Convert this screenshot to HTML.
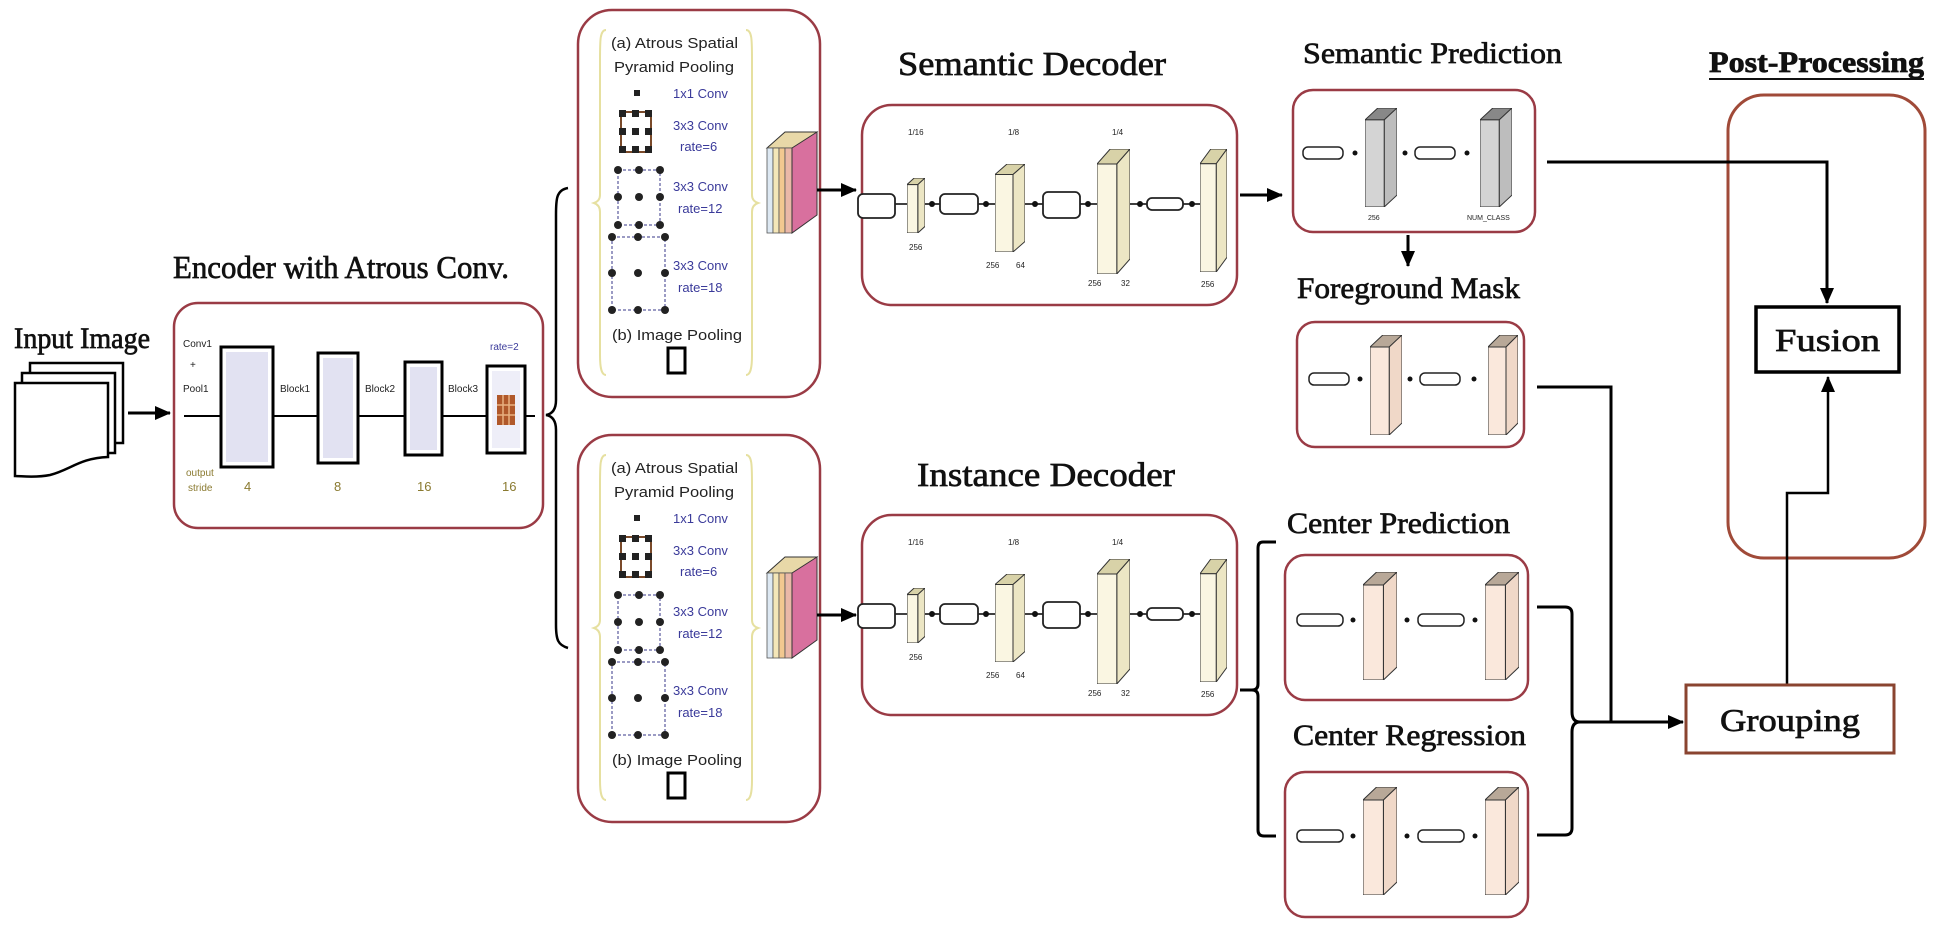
<!DOCTYPE html>
<html><head><meta charset="utf-8"><style>
html,body{margin:0;padding:0;background:#fff;}
svg{display:block;}
.t{font-family:"Liberation Serif",serif;fill:#111;stroke:#111;stroke-width:0.7;}
.s{font-family:"Liberation Sans",sans-serif;}
</style></head><body>
<svg width="1940" height="932" viewBox="0 0 1940 932" xmlns="http://www.w3.org/2000/svg">
<defs>
<marker id="ahb" markerWidth="16" markerHeight="14" refX="15" refY="7" orient="auto" markerUnits="userSpaceOnUse"><path d="M0,0 L16,7 L0,14 z" fill="#000"/></marker>
<symbol id="slabY" viewBox="0 0 30 100" preserveAspectRatio="none">
<polygon points="0,12 18,12 30,0 12,0" fill="#d8d2a8" stroke="#333" stroke-width="1" vector-effect="non-scaling-stroke"/>
<polygon points="18,12 30,0 30,88 18,100" fill="#ece6c4" stroke="#333" stroke-width="1" vector-effect="non-scaling-stroke"/>
<rect x="0" y="12" width="18" height="88" fill="#faf6e2" stroke="#333" stroke-width="1" vector-effect="non-scaling-stroke"/>
</symbol>
<symbol id="slabG" viewBox="0 0 30 100" preserveAspectRatio="none">
<polygon points="0,12 18,12 30,0 12,0" fill="#888" stroke="#333" stroke-width="1" vector-effect="non-scaling-stroke"/>
<polygon points="18,12 30,0 30,88 18,100" fill="#bdbdbd" stroke="#333" stroke-width="1" vector-effect="non-scaling-stroke"/>
<rect x="0" y="12" width="18" height="88" fill="#d4d4d4" stroke="#333" stroke-width="1" vector-effect="non-scaling-stroke"/>
</symbol>
<symbol id="slabP" viewBox="0 0 30 100" preserveAspectRatio="none">
<polygon points="0,12 18,12 30,0 12,0" fill="#b8a898" stroke="#333" stroke-width="1" vector-effect="non-scaling-stroke"/>
<polygon points="18,12 30,0 30,88 18,100" fill="#f0d8c8" stroke="#333" stroke-width="1" vector-effect="non-scaling-stroke"/>
<rect x="0" y="12" width="18" height="88" fill="#fae8dc" stroke="#333" stroke-width="1" vector-effect="non-scaling-stroke"/>
</symbol>
</defs>

<!-- Input image -->
<text class="t" x="14" y="348" font-size="30" textLength="136" lengthAdjust="spacingAndGlyphs">Input Image</text>
<g fill="#fff" stroke="#000" stroke-width="2.5">
<rect x="30" y="363" width="93" height="80"/>
<rect x="22" y="373" width="93" height="80"/>
<path d="M15,383 L108,383 L108,457 C80,458 70,470 50,475 C35,478 22,476 15,476 Z"/>
</g>
<line x1="128" y1="413" x2="170" y2="413" stroke="#000" stroke-width="3" marker-end="url(#ahb)"/>

<!-- Encoder -->
<text class="t" x="173" y="278" font-size="32" textLength="336" lengthAdjust="spacingAndGlyphs">Encoder with Atrous Conv.</text>
<rect x="174" y="303" width="369" height="225" rx="24" fill="#fff" stroke="#9a3b45" stroke-width="2.5"/>
<line x1="184" y1="416" x2="535" y2="416" stroke="#000" stroke-width="2"/>
<g stroke="#000" stroke-width="3">
<rect x="221" y="347" width="52" height="120" fill="#fff"/>
<rect x="318" y="353" width="40" height="110" fill="#fff"/>
<rect x="405" y="362" width="37" height="93" fill="#fff"/>
<rect x="487" y="366" width="38" height="87" fill="#fff"/>
</g>
<rect x="226" y="352" width="42" height="110" fill="#e2e2f2"/>
<rect x="323" y="358" width="30" height="100" fill="#e2e2f2"/>
<rect x="410" y="367" width="27" height="83" fill="#e2e2f2"/>
<rect x="492" y="371" width="28" height="77" fill="#eeeef8"/>
<rect x="497" y="395" width="18" height="30" fill="#b0582a"/>
<g stroke="#e8b080" stroke-width="1.5"><line x1="497" y1="405" x2="515" y2="405"/><line x1="497" y1="415" x2="515" y2="415"/><line x1="503" y1="395" x2="503" y2="425"/><line x1="509" y1="395" x2="509" y2="425"/></g>
<g class="s" font-size="10" fill="#222">
<text x="183" y="347">Conv1</text><text x="190" y="368">+</text><text x="183" y="392">Pool1</text>
<text x="280" y="392">Block1</text><text x="365" y="392">Block2</text><text x="448" y="392">Block3</text>
<text x="490" y="350" fill="#3a3a9a">rate=2</text>
<text x="186" y="476" fill="#8a7a30">output</text><text x="188" y="491" fill="#8a7a30">stride</text>
<text x="244" y="491" fill="#8a7a30" font-size="13">4</text><text x="334" y="491" fill="#8a7a30" font-size="13">8</text>
<text x="417" y="491" fill="#8a7a30" font-size="13">16</text><text x="502" y="491" fill="#8a7a30" font-size="13">16</text>
</g>

<!-- Big brace -->
<path d="M568,188 C556,190 556,200 556,215 L556,400 C556,410 552,414 546,415 C552,416 556,420 556,430 L556,625 C556,640 558,645 568,648" fill="none" stroke="#000" stroke-width="2.5"/>

<!-- ASPP boxes -->
<g id="aspp">
<rect x="578" y="10" width="242" height="387" rx="34" fill="#fff" stroke="#9a3b45" stroke-width="2.5"/>
<path d="M606,30 C600,30 600,40 600,60 L600,195 C600,200 597,202 594,203 C597,204 600,206 600,212 L600,355 C600,370 602,375 606,375" fill="none" stroke="#e6e0a0" stroke-width="2"/>
<path d="M746,30 C752,30 752,40 752,60 L752,195 C752,200 755,202 758,203 C755,204 752,206 752,212 L752,355 C752,370 750,375 746,375" fill="none" stroke="#e6e0a0" stroke-width="2"/>
<g class="s" font-size="15" fill="#222">
<text x="611" y="48" textLength="127" lengthAdjust="spacingAndGlyphs">(a) Atrous Spatial</text>
<text x="614" y="72" textLength="120" lengthAdjust="spacingAndGlyphs">Pyramid Pooling</text>
<text x="612" y="340" textLength="130" lengthAdjust="spacingAndGlyphs">(b) Image Pooling</text>
</g>
<g class="s" font-size="13" fill="#3a3a9a">
<text x="673" y="98">1x1 Conv</text>
<text x="673" y="130">3x3 Conv</text><text x="680" y="151">rate=6</text>
<text x="673" y="191">3x3 Conv</text><text x="678" y="213">rate=12</text>
<text x="673" y="270">3x3 Conv</text><text x="678" y="292">rate=18</text>
</g>
<rect x="634" y="90" width="6" height="6" fill="#222"/>
<rect x="621" y="112" width="30" height="40" fill="none" stroke="#7a4a2a" stroke-width="2"/>
<g fill="#222">
<rect x="619" y="110" width="7" height="7"/><rect x="632" y="110" width="7" height="7"/><rect x="645" y="110" width="7" height="7"/>
<rect x="619" y="128" width="7" height="7"/><rect x="632" y="128" width="7" height="7"/><rect x="645" y="128" width="7" height="7"/>
<rect x="619" y="146" width="7" height="7"/><rect x="632" y="146" width="7" height="7"/><rect x="645" y="146" width="7" height="7"/>
</g>
<rect x="618" y="170" width="42" height="55" fill="none" stroke="#7a7ab0" stroke-width="1.5" stroke-dasharray="3,2"/>
<g fill="#222">
<circle cx="618" cy="170" r="4"/><circle cx="639" cy="170" r="4"/><circle cx="660" cy="170" r="4"/>
<circle cx="618" cy="197" r="4"/><circle cx="639" cy="197" r="4"/><circle cx="660" cy="197" r="4"/>
<circle cx="618" cy="225" r="4"/><circle cx="639" cy="225" r="4"/><circle cx="660" cy="225" r="4"/>
</g>
<rect x="612" y="237" width="53" height="73" fill="none" stroke="#7a7ab0" stroke-width="1.5" stroke-dasharray="3,2"/>
<g fill="#222">
<circle cx="612" cy="237" r="4"/><circle cx="638" cy="237" r="4"/><circle cx="665" cy="237" r="4"/>
<circle cx="612" cy="273" r="4"/><circle cx="638" cy="273" r="4"/><circle cx="665" cy="273" r="4"/>
<circle cx="612" cy="310" r="4"/><circle cx="638" cy="310" r="4"/><circle cx="665" cy="310" r="4"/>
</g>
<rect x="668" y="348" width="17" height="25" fill="none" stroke="#000" stroke-width="3"/>
<polygon points="767,148 785,132 817,132 799,148" fill="#e8d8a8" stroke="#333" stroke-width="1"/>
<rect x="767" y="148" width="6" height="85" fill="#dde8f2" stroke="#555" stroke-width="0.8"/>
<rect x="773" y="148" width="6" height="85" fill="#f4e6b8" stroke="#555" stroke-width="0.8"/>
<rect x="779" y="148" width="6" height="85" fill="#f2c890" stroke="#555" stroke-width="0.8"/>
<rect x="785" y="148" width="7" height="85" fill="#eab8a8" stroke="#555" stroke-width="0.8"/>
<polygon points="792,148 817,132 817,215 792,233" fill="#d8709e" stroke="#333" stroke-width="1"/>
<line x1="817" y1="190" x2="856" y2="190" stroke="#000" stroke-width="3" marker-end="url(#ahb)"/>
</g>
<use href="#aspp" transform="translate(0,425)"/>

<!-- Decoders -->
<text class="t" x="898" y="75" font-size="34" textLength="268" lengthAdjust="spacingAndGlyphs">Semantic Decoder</text>
<text class="t" x="917" y="486" font-size="34" textLength="258" lengthAdjust="spacingAndGlyphs">Instance Decoder</text>
<g id="dec">
<rect x="862" y="105" width="375" height="200" rx="30" fill="#fff" stroke="#9a3b45" stroke-width="2.5"/>
<line x1="862" y1="204" x2="1200" y2="204" stroke="#000" stroke-width="1.5"/>
<g fill="#fff" stroke="#222" stroke-width="1.8">
<rect x="858" y="194" width="37" height="24" rx="5"/>
<rect x="940" y="194" width="38" height="20" rx="5"/>
<rect x="1043" y="192" width="37" height="26" rx="5"/>
<rect x="1147" y="198" width="36" height="12" rx="5"/>
</g>
<use href="#slabY" x="907" y="178" width="18" height="55"/>
<use href="#slabY" x="995" y="164" width="30" height="88"/>
<use href="#slabY" x="1097" y="149" width="33" height="125"/>
<use href="#slabY" x="1200" y="149" width="27" height="123"/>
<g fill="#111"><circle cx="932" cy="204" r="3"/><circle cx="986" cy="204" r="3"/><circle cx="1035" cy="204" r="3"/><circle cx="1088" cy="204" r="3"/><circle cx="1140" cy="204" r="3"/><circle cx="1192" cy="204" r="3"/></g>
<g class="s" font-size="8" fill="#222">
<text x="908" y="135">1/16</text><text x="1008" y="135">1/8</text><text x="1112" y="135">1/4</text>
<text x="909" y="250">256</text><text x="986" y="268">256</text><text x="1016" y="268">64</text>
<text x="1088" y="286">256</text><text x="1121" y="286">32</text><text x="1201" y="287">256</text>
</g>
</g>
<use href="#dec" transform="translate(0,410)"/>
<line x1="1240" y1="195" x2="1282" y2="195" stroke="#000" stroke-width="3" marker-end="url(#ahb)"/>

<!-- Semantic prediction -->
<text class="t" x="1303" y="63" font-size="30" textLength="259" lengthAdjust="spacingAndGlyphs">Semantic Prediction</text>
<rect x="1293" y="90" width="242" height="142" rx="20" fill="#fff" stroke="#9a3b45" stroke-width="2.5"/>
<g fill="#fff" stroke="#222" stroke-width="1.5"><rect x="1303" y="147" width="40" height="12" rx="5"/><rect x="1415" y="147" width="40" height="12" rx="5"/></g>
<use href="#slabG" x="1365" y="108" width="32" height="99"/>
<use href="#slabG" x="1480" y="108" width="32" height="99"/>
<g fill="#111"><circle cx="1355" cy="153" r="2.5"/><circle cx="1405" cy="153" r="2.5"/><circle cx="1467" cy="153" r="2.5"/></g>
<g class="s" font-size="7" fill="#222"><text x="1368" y="220">256</text><text x="1467" y="220">NUM_CLASS</text></g>
<line x1="1408" y1="235" x2="1408" y2="266" stroke="#000" stroke-width="3" marker-end="url(#ahb)"/>

<!-- Foreground mask -->
<text class="t" x="1297" y="298" font-size="30" textLength="223" lengthAdjust="spacingAndGlyphs">Foreground Mask</text>
<rect x="1297" y="322" width="227" height="125" rx="18" fill="#fff" stroke="#9a3b45" stroke-width="2.5"/>
<g fill="#fff" stroke="#222" stroke-width="1.5"><rect x="1309" y="373" width="40" height="12" rx="5"/><rect x="1420" y="373" width="40" height="12" rx="5"/></g>
<use href="#slabP" x="1370" y="335" width="32" height="100"/>
<use href="#slabP" x="1488" y="335" width="30" height="100"/>
<g fill="#111"><circle cx="1360" cy="379" r="2.5"/><circle cx="1410" cy="379" r="2.5"/><circle cx="1474" cy="379" r="2.5"/></g>

<!-- Center prediction / regression -->
<text class="t" x="1287" y="533" font-size="30" textLength="223" lengthAdjust="spacingAndGlyphs">Center Prediction</text>
<rect x="1285" y="555" width="243" height="145" rx="20" fill="#fff" stroke="#9a3b45" stroke-width="2.5"/>
<g fill="#fff" stroke="#222" stroke-width="1.5"><rect x="1297" y="614" width="46" height="12" rx="5"/><rect x="1418" y="614" width="46" height="12" rx="5"/></g>
<use href="#slabP" x="1363" y="572" width="34" height="108"/>
<use href="#slabP" x="1485" y="572" width="34" height="108"/>
<g fill="#111"><circle cx="1353" cy="620" r="2.5"/><circle cx="1407" cy="620" r="2.5"/><circle cx="1475" cy="620" r="2.5"/></g>

<text class="t" x="1293" y="745" font-size="30" textLength="233" lengthAdjust="spacingAndGlyphs">Center Regression</text>
<rect x="1285" y="772" width="243" height="145" rx="20" fill="#fff" stroke="#9a3b45" stroke-width="2.5"/>
<g fill="#fff" stroke="#222" stroke-width="1.5"><rect x="1297" y="830" width="46" height="12" rx="5"/><rect x="1418" y="830" width="46" height="12" rx="5"/></g>
<use href="#slabP" x="1363" y="787" width="34" height="108"/>
<use href="#slabP" x="1485" y="787" width="34" height="108"/>
<g fill="#111"><circle cx="1353" cy="836" r="2.5"/><circle cx="1407" cy="836" r="2.5"/><circle cx="1475" cy="836" r="2.5"/></g>

<path d="M1276,542 L1263,542 Q1258,542 1258,548 L1258,684 Q1258,690 1252,690 L1240,690 M1252,690 Q1258,690 1258,696 L1258,830 Q1258,836 1264,836 L1276,836" fill="none" stroke="#000" stroke-width="3"/>

<path d="M1537,607 L1565,607 Q1572,607 1572,614 L1572,712 Q1572,722 1580,722 M1537,835 L1565,835 Q1572,835 1572,828 L1572,732 Q1572,722 1580,722" fill="none" stroke="#000" stroke-width="3"/>
<path d="M1537,387 L1611,387 L1611,722" fill="none" stroke="#000" stroke-width="3"/>
<line x1="1578" y1="722" x2="1683" y2="722" stroke="#000" stroke-width="3" marker-end="url(#ahb)"/>

<!-- Post-processing -->
<text class="t" x="1709" y="72" font-size="30" font-weight="bold" textLength="215" lengthAdjust="spacingAndGlyphs">Post-Processing</text>
<line x1="1709" y1="79" x2="1924" y2="79" stroke="#111" stroke-width="2"/>
<rect x="1728" y="95" width="197" height="463" rx="36" fill="none" stroke="#a04a38" stroke-width="3"/>
<path d="M1547,162 L1827,162 L1827,303" fill="none" stroke="#000" stroke-width="3" marker-end="url(#ahb)"/>
<rect x="1756" y="307" width="143" height="65" fill="#fff" stroke="#000" stroke-width="3.5"/>
<text class="t" x="1775" y="351" font-size="32" textLength="105" lengthAdjust="spacingAndGlyphs">Fusion</text>
<path d="M1787,685 L1787,493 L1828,493 L1828,377" fill="none" stroke="#000" stroke-width="2.5" marker-end="url(#ahb)"/>
<rect x="1686" y="685" width="208" height="68" fill="#fff" stroke="#8a4430" stroke-width="3"/>
<text class="t" x="1720" y="731" font-size="32" textLength="140" lengthAdjust="spacingAndGlyphs">Grouping</text>
</svg>
</body></html>
